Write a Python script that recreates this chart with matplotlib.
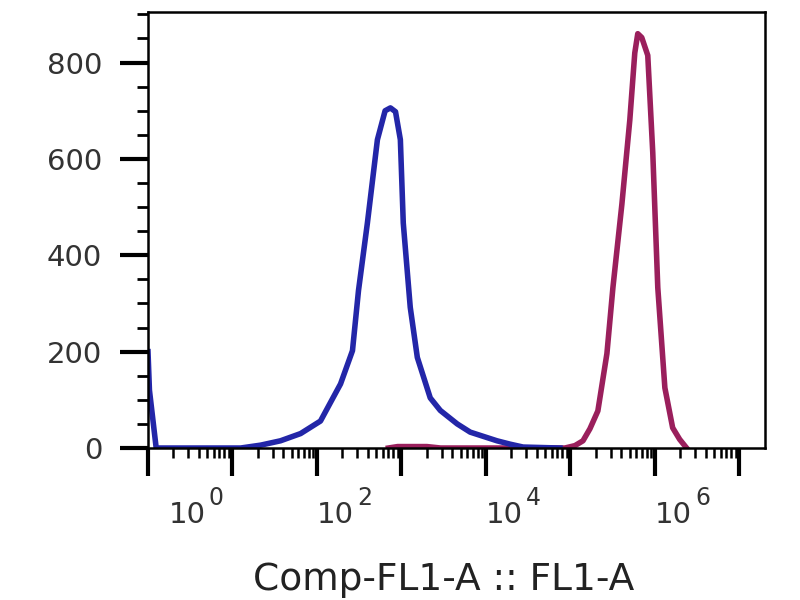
import numpy as np
import matplotlib
matplotlib.use("Agg")
import matplotlib.pyplot as plt
from matplotlib.ticker import FixedLocator, LogLocator, NullFormatter
from matplotlib.transforms import blended_transform_factory, ScaledTranslation

# histogram outlines (fluorescence, count)
blue_x = [1.0, 1.04, 1.25, 4.0, 12.5, 21.6, 37, 64, 110, 145, 190, 263, 310,
          395, 519, 640, 740, 850, 970, 1050, 1270, 1540, 2190, 2880, 4570,
          6500, 13500, 19300, 27500, 75000]
blue_y = [200, 120, 0, 0, 0, 6, 15, 30, 56, 95, 133, 202, 327,
          467, 640, 700, 706, 698, 640, 467, 292, 188, 104, 78, 50,
          33, 15, 8, 2, 0]

red_x = [700, 900, 2000, 2900, 86000, 113000, 140600, 170000, 211000,
         270000, 318000, 406000, 504000, 577000, 626000, 698000, 822000,
         942000, 1.08e6, 1.31e6, 1.62e6, 1.96e6, 2.37e6]
red_y = [0, 3, 3, 0, 0, 5, 15, 40, 77, 196, 333, 506, 681, 820, 860, 852,
         815, 613, 333, 125, 42, 18, 0]

ytick_vals = [0, 200, 400, 600, 800]
xlabel_exps = [0, 2, 4, 6]
xlabel = "Comp-FL1-A :: FL1-A"

fig = plt.figure(figsize=(8, 6), dpi=100)
ax = fig.add_axes([0.185, 0.2533, 0.771, 0.7267])

ax.plot(red_x, red_y, color="#9a1f5c", lw=4, solid_joinstyle="round")
ax.plot(blue_x, blue_y, color="#2326a8", lw=4, solid_joinstyle="round")

ax.set_xscale("log")
ax.set_xlim(1.0, 10 ** 7.3)
ax.set_ylim(0, 905)

for s in ax.spines.values():
    s.set_linewidth(1.8)

ax.yaxis.set_major_locator(FixedLocator(ytick_vals))
ax.yaxis.set_minor_locator(FixedLocator(np.arange(0, 901, 50)))
ax.tick_params(axis="y", which="major", length=20, width=3, labelsize=21,
               labelcolor="#333333", pad=13)
ax.tick_params(axis="y", which="minor", length=8, width=2)

ax.xaxis.set_major_locator(FixedLocator([10.0 ** k for k in range(8)]))
ax.xaxis.set_minor_locator(LogLocator(base=10, subs=np.arange(2, 10), numticks=20))
ax.xaxis.set_major_formatter(NullFormatter())
ax.xaxis.set_minor_formatter(NullFormatter())
ax.tick_params(axis="x", which="major", length=20, width=3)
ax.tick_params(axis="x", which="minor", length=7, width=1.8)

# decade labels: "10" with a big raised exponent, left aligned on the tick
trans = blended_transform_factory(ax.transData, ax.transAxes)
for k in xlabel_exps:
    dx = 21 / 100 if k == 0 else 0
    t = trans + ScaledTranslation(dx, -75 / 100, fig.dpi_scale_trans)
    ax.text(10.0 ** k, 0, "10", transform=t, ha="left", va="baseline",
            fontsize=21, color="#333333", clip_on=False)
    t2 = trans + ScaledTranslation(dx + 40 / 100, -57 / 100, fig.dpi_scale_trans)
    ax.text(10.0 ** k, 0, str(k), transform=t2, ha="left", va="baseline",
            fontsize=17, color="#333333", clip_on=False)

fig.text(0.554, 0.063, xlabel, ha="center", va="top", fontsize=27, color="#222222")

fig.savefig("out.png", dpi=100, facecolor="white")
